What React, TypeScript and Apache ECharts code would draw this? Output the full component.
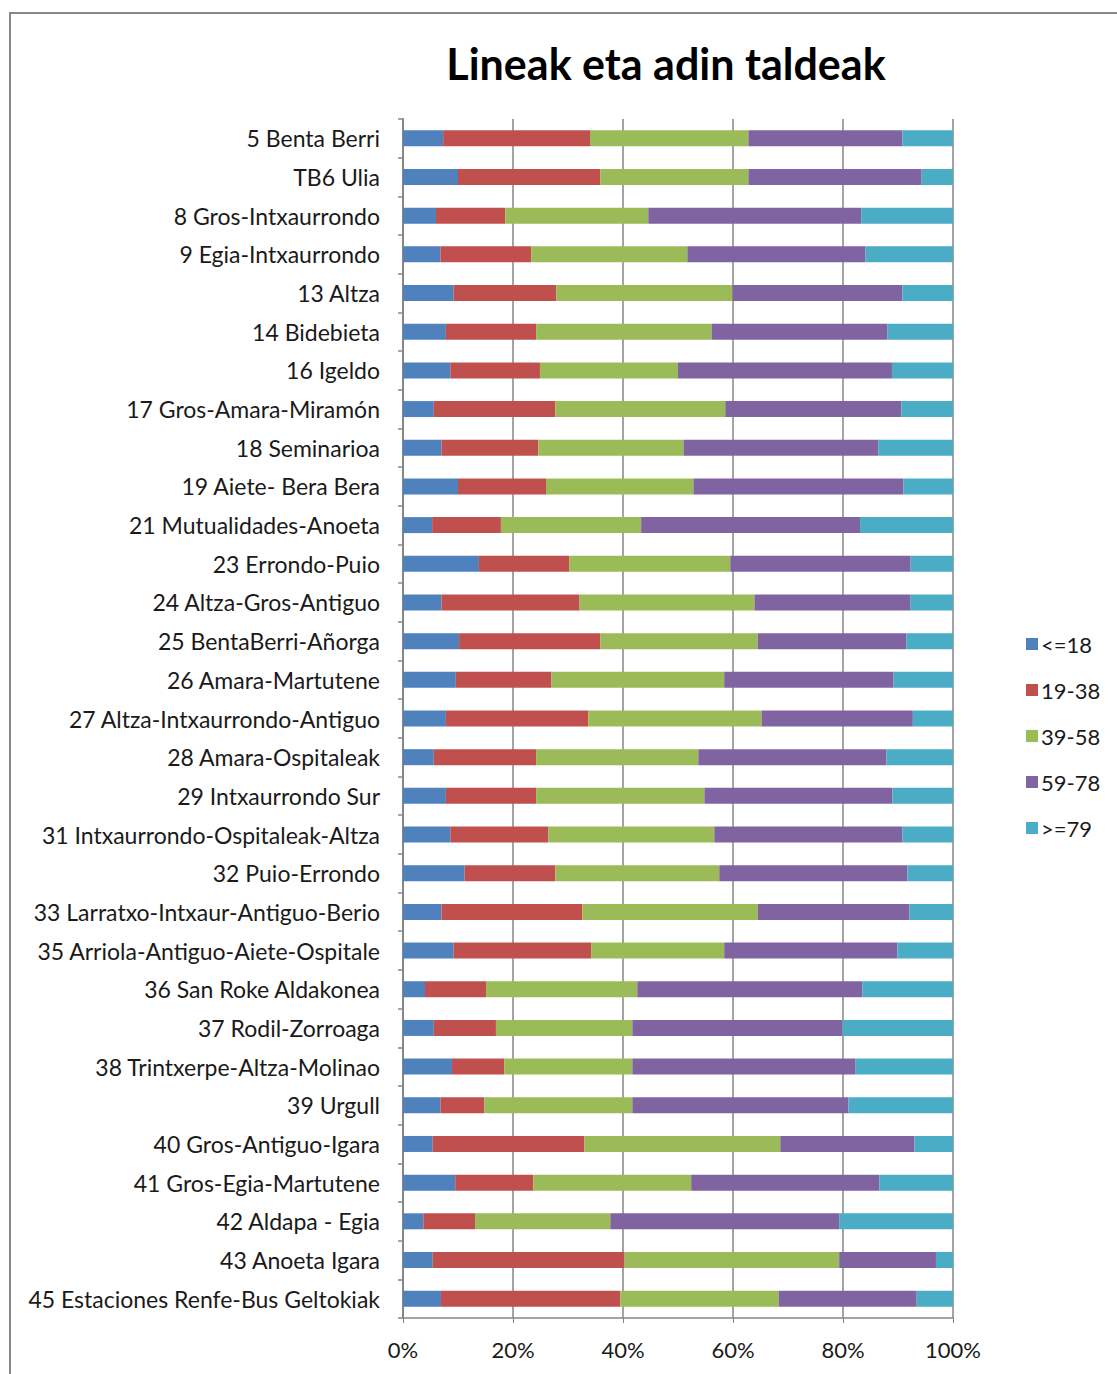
import React, { useEffect, useRef } from "react";
import * as echarts from "echarts";

const categories = [
  "5 Benta Berri",
  "TB6 Ulia",
  "8 Gros-Intxaurrondo",
  "9 Egia-Intxaurrondo",
  "13 Altza",
  "14 Bidebieta",
  "16 Igeldo",
  "17 Gros-Amara-Miramón",
  "18 Seminarioa",
  "19 Aiete- Bera Bera",
  "21 Mutualidades-Anoeta",
  "23 Errondo-Puio",
  "24 Altza-Gros-Antiguo",
  "25 BentaBerri-Añorga",
  "26 Amara-Martutene",
  "27 Altza-Intxaurrondo-Antiguo",
  "28 Amara-Ospitaleak",
  "29 Intxaurrondo Sur",
  "31 Intxaurrondo-Ospitaleak-Altza",
  "32 Puio-Errondo",
  "33 Larratxo-Intxaur-Antiguo-Berio",
  "35 Arriola-Antiguo-Aiete-Ospitale",
  "36 San Roke Aldakonea",
  "37 Rodil-Zorroaga",
  "38 Trintxerpe-Altza-Molinao",
  "39 Urgull",
  "40 Gros-Antiguo-Igara",
  "41 Gros-Egia-Martutene",
  "42 Aldapa - Egia",
  "43 Anoeta Igara",
  "45 Estaciones Renfe-Bus Geltokiak",
];

const seriesNames = ["<=18", "19-38", "39-58", "59-78", ">=79"];

const age0_18 = [7.3, 10.0, 6.0, 6.8, 9.2, 7.8, 8.6, 5.6, 7.0, 10.0, 5.3, 13.8, 7.0, 10.2, 9.6, 7.8, 5.6, 7.8, 8.6, 11.2, 7.0, 9.2, 4.0, 5.6, 8.9, 6.8, 5.4, 9.5, 3.7, 5.4, 6.9];
const age19_38 = [26.7, 25.9, 12.6, 16.5, 18.7, 16.4, 16.3, 22.1, 17.6, 16.0, 12.5, 16.4, 25.1, 25.7, 17.4, 25.9, 18.6, 16.4, 17.8, 16.5, 25.6, 25.0, 11.1, 11.3, 9.5, 8.0, 27.6, 14.2, 9.4, 34.9, 32.6];
const age39_58 = [28.8, 26.9, 26.0, 28.4, 32.0, 31.9, 25.1, 30.9, 26.4, 26.8, 25.5, 29.3, 31.8, 28.6, 31.4, 31.5, 29.5, 30.6, 30.2, 29.8, 31.9, 24.2, 27.5, 24.8, 23.3, 26.9, 35.6, 28.7, 24.6, 39.0, 28.8];
const age59_78 = [28.0, 31.5, 38.7, 32.4, 30.9, 32.0, 38.9, 32.0, 35.4, 38.2, 39.8, 32.8, 28.4, 27.0, 30.8, 27.5, 34.2, 34.2, 34.2, 34.2, 27.6, 31.5, 40.9, 38.2, 40.6, 39.3, 24.4, 34.2, 41.6, 17.6, 25.1];
const age79plus = [9.2, 5.7, 16.7, 15.9, 9.2, 11.9, 11.1, 9.4, 13.6, 9.0, 16.9, 7.7, 7.7, 8.5, 10.8, 7.3, 12.1, 11.0, 9.2, 8.3, 7.9, 10.1, 16.5, 20.1, 17.7, 19.0, 7.0, 13.4, 20.7, 3.1, 6.6];

const xTicks = [0, 20, 40, 60, 80, 100];

const colors = ["#4F81BD", "#C0504D", "#9BBB59", "#8064A2", "#4BACC6"];

const FONT = "Lato, 'Open Sans', sans-serif";

export default function App() {
  const ref = useRef<HTMLDivElement>(null);

  useEffect(() => {
    if (!ref.current) return;
    const chart = echarts.init(ref.current, undefined, { renderer: "svg" });
    const dataSets = [age0_18, age19_38, age39_58, age59_78, age79plus];
    chart.setOption({
      animation: false,
      backgroundColor: "#ffffff",
      textStyle: { fontFamily: FONT },
      title: {
        text: "Lineak eta adin taldeak",
        left: 661,
        top: 37,
        textAlign: "center",
        textStyle: { fontFamily: FONT, fontSize: 43, fontWeight: "bold", color: "#000000" },
      },
      graphic: [
        {
          type: "rect",
          shape: { x: 10, y: 13, width: 1200, height: 1500 },
          style: { fill: "none", stroke: "#878787", lineWidth: 2 },
          silent: true,
          z: 100,
        },
      ],
      legend: {
        orient: "vertical",
        left: 1021,
        top: 628,
        itemWidth: 12,
        itemHeight: 12,
        itemGap: 24,
        icon: "rect",
        data: seriesNames,
        textStyle: { fontFamily: FONT, fontSize: 22, color: "#1a1a1a", lineHeight: 22, padding: [0, 0, 0, -2] },
      },
      grid: { left: 403, top: 119, width: 550, height: 1199, containLabel: false },
      xAxis: {
        type: "value",
        min: 0,
        max: 100,
        interval: 20,
        axisLine: { show: true, lineStyle: { color: "#868686", width: 1.5 } },
        axisTick: { show: true, length: 5, lineStyle: { color: "#868686" } },
        splitLine: { show: true, lineStyle: { color: "#868686", width: 1.5 } },
        axisLabel: {
          formatter: (v: number) => (xTicks.includes(v) ? v + "%" : ""),
          fontFamily: FONT,
          fontSize: 22,
          color: "#1a1a1a",
          margin: 20,
        },
      },
      yAxis: {
        type: "category",
        inverse: true,
        data: categories,
        axisLine: { show: true, lineStyle: { color: "#868686", width: 2 } },
        axisTick: { show: true, length: 5, lineStyle: { color: "#868686", width: 1.5 } },
        axisLabel: { fontFamily: FONT, fontSize: 23, color: "#1a1a1a", margin: 23 },
      },
      series: seriesNames.map((name, i) => ({
        name,
        type: "bar",
        stack: "total",
        barWidth: 16,
        data: dataSets[i],
        itemStyle: { color: colors[i] },
      })),
    });
    return () => chart.dispose();
  }, []);

  return (
    <div
      ref={ref}
      style={{ position: "absolute", left: 0, top: 0, width: 1117, height: 1374 }}
    />
  );
}
